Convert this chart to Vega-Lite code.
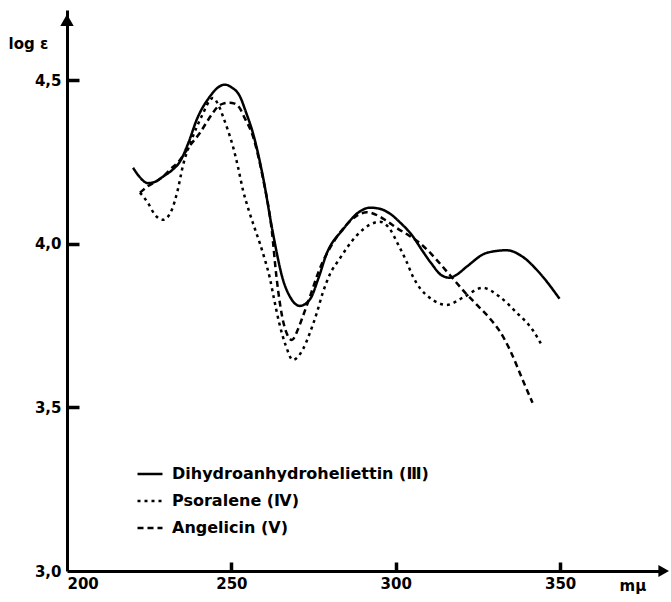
{
  "$schema": "https://vega.github.io/schema/vega-lite/v6.json",
  "width": 598,
  "height": 561,
  "autosize": {"type": "none"},
  "padding": {"left": 67, "top": 10, "right": 6, "bottom": 31},
  "background": "white",
  "config": {
    "view": {"stroke": null},
    "axis": {
      "grid": false,
      "ticks": false,
      "domainColor": "black",
      "domainWidth": 3,
      "tickColor": "black",
      "tickWidth": 2.5,
      "labelColor": "black",
      "labelFont": "DejaVu Sans",
      "labelFontWeight": "bold",
      "labelFontSize": 15,
      "titleColor": "black",
      "titleFont": "DejaVu Sans",
      "titleFontWeight": "bold",
      "titleFontSize": 15
    },
    "legend": {
      "labelFont": "DejaVu Sans",
      "labelFontWeight": "bold",
      "labelFontSize": 16,
      "labelColor": "black",
      "labelLimit": 0
    }
  },
  "resolve": {"axis": {"x": "independent", "y": "independent"}},
  "datasets": {
    "curves": [
      {"series": "Dihydroanhydroheliettin (Ⅲ)", "nm": 220.1, "loge": 4.232},
      {"series": "Dihydroanhydroheliettin (Ⅲ)", "nm": 222.0, "loge": 4.205},
      {"series": "Dihydroanhydroheliettin (Ⅲ)", "nm": 224.6, "loge": 4.185},
      {"series": "Dihydroanhydroheliettin (Ⅲ)", "nm": 227.0, "loge": 4.19},
      {"series": "Dihydroanhydroheliettin (Ⅲ)", "nm": 229.2, "loge": 4.205},
      {"series": "Dihydroanhydroheliettin (Ⅲ)", "nm": 232.0, "loge": 4.225},
      {"series": "Dihydroanhydroheliettin (Ⅲ)", "nm": 234.3, "loge": 4.25},
      {"series": "Dihydroanhydroheliettin (Ⅲ)", "nm": 237.0, "loge": 4.31},
      {"series": "Dihydroanhydroheliettin (Ⅲ)", "nm": 239.5, "loge": 4.38},
      {"series": "Dihydroanhydroheliettin (Ⅲ)", "nm": 243.5, "loge": 4.45},
      {"series": "Dihydroanhydroheliettin (Ⅲ)", "nm": 246.0, "loge": 4.478},
      {"series": "Dihydroanhydroheliettin (Ⅲ)", "nm": 248.0, "loge": 4.486},
      {"series": "Dihydroanhydroheliettin (Ⅲ)", "nm": 250.0, "loge": 4.478},
      {"series": "Dihydroanhydroheliettin (Ⅲ)", "nm": 252.6, "loge": 4.45},
      {"series": "Dihydroanhydroheliettin (Ⅲ)", "nm": 254.5, "loge": 4.40},
      {"series": "Dihydroanhydroheliettin (Ⅲ)", "nm": 256.5, "loge": 4.34},
      {"series": "Dihydroanhydroheliettin (Ⅲ)", "nm": 259.6, "loge": 4.205},
      {"series": "Dihydroanhydroheliettin (Ⅲ)", "nm": 262.5, "loge": 4.04},
      {"series": "Dihydroanhydroheliettin (Ⅲ)", "nm": 265.7, "loge": 3.89},
      {"series": "Dihydroanhydroheliettin (Ⅲ)", "nm": 268.0, "loge": 3.835},
      {"series": "Dihydroanhydroheliettin (Ⅲ)", "nm": 270.8, "loge": 3.81},
      {"series": "Dihydroanhydroheliettin (Ⅲ)", "nm": 273.9, "loge": 3.83},
      {"series": "Dihydroanhydroheliettin (Ⅲ)", "nm": 276.5, "loge": 3.895},
      {"series": "Dihydroanhydroheliettin (Ⅲ)", "nm": 279.0, "loge": 3.97},
      {"series": "Dihydroanhydroheliettin (Ⅲ)", "nm": 283.9, "loge": 4.043},
      {"series": "Dihydroanhydroheliettin (Ⅲ)", "nm": 289.0, "loge": 4.098},
      {"series": "Dihydroanhydroheliettin (Ⅲ)", "nm": 292.1, "loge": 4.11},
      {"series": "Dihydroanhydroheliettin (Ⅲ)", "nm": 295.0, "loge": 4.107},
      {"series": "Dihydroanhydroheliettin (Ⅲ)", "nm": 298.2, "loge": 4.092},
      {"series": "Dihydroanhydroheliettin (Ⅲ)", "nm": 301.2, "loge": 4.066},
      {"series": "Dihydroanhydroheliettin (Ⅲ)", "nm": 305.0, "loge": 4.025},
      {"series": "Dihydroanhydroheliettin (Ⅲ)", "nm": 308.0, "loge": 3.98},
      {"series": "Dihydroanhydroheliettin (Ⅲ)", "nm": 310.8, "loge": 3.94},
      {"series": "Dihydroanhydroheliettin (Ⅲ)", "nm": 314.0, "loge": 3.903},
      {"series": "Dihydroanhydroheliettin (Ⅲ)", "nm": 316.4, "loge": 3.896},
      {"series": "Dihydroanhydroheliettin (Ⅲ)", "nm": 318.5, "loge": 3.905},
      {"series": "Dihydroanhydroheliettin (Ⅲ)", "nm": 321.6, "loge": 3.93},
      {"series": "Dihydroanhydroheliettin (Ⅲ)", "nm": 327.7, "loge": 3.972},
      {"series": "Dihydroanhydroheliettin (Ⅲ)", "nm": 333.7, "loge": 3.98},
      {"series": "Dihydroanhydroheliettin (Ⅲ)", "nm": 338.6, "loge": 3.96},
      {"series": "Dihydroanhydroheliettin (Ⅲ)", "nm": 343.8, "loge": 3.91},
      {"series": "Dihydroanhydroheliettin (Ⅲ)", "nm": 349.8, "loge": 3.832},

      {"series": "Psoralene (Ⅳ)", "nm": 222.2, "loge": 4.156},
      {"series": "Psoralene (Ⅳ)", "nm": 224.6, "loge": 4.125},
      {"series": "Psoralene (Ⅳ)", "nm": 226.7, "loge": 4.089},
      {"series": "Psoralene (Ⅳ)", "nm": 229.2, "loge": 4.073},
      {"series": "Psoralene (Ⅳ)", "nm": 231.9, "loge": 4.104},
      {"series": "Psoralene (Ⅳ)", "nm": 233.7, "loge": 4.165},
      {"series": "Psoralene (Ⅳ)", "nm": 235.3, "loge": 4.24},
      {"series": "Psoralene (Ⅳ)", "nm": 238.0, "loge": 4.32},
      {"series": "Psoralene (Ⅳ)", "nm": 241.0, "loge": 4.39},
      {"series": "Psoralene (Ⅳ)", "nm": 244.4, "loge": 4.445},
      {"series": "Psoralene (Ⅳ)", "nm": 246.0, "loge": 4.425},
      {"series": "Psoralene (Ⅳ)", "nm": 247.4, "loge": 4.39},
      {"series": "Psoralene (Ⅳ)", "nm": 249.0, "loge": 4.345},
      {"series": "Psoralene (Ⅳ)", "nm": 250.4, "loge": 4.30},
      {"series": "Psoralene (Ⅳ)", "nm": 252.0, "loge": 4.235},
      {"series": "Psoralene (Ⅳ)", "nm": 253.5, "loge": 4.165},
      {"series": "Psoralene (Ⅳ)", "nm": 255.2, "loge": 4.105},
      {"series": "Psoralene (Ⅳ)", "nm": 257.0, "loge": 4.05},
      {"series": "Psoralene (Ⅳ)", "nm": 258.7, "loge": 4.0},
      {"series": "Psoralene (Ⅳ)", "nm": 260.2, "loge": 3.951},
      {"series": "Psoralene (Ⅳ)", "nm": 261.7, "loge": 3.895},
      {"series": "Psoralene (Ⅳ)", "nm": 263.0, "loge": 3.83},
      {"series": "Psoralene (Ⅳ)", "nm": 264.5, "loge": 3.76},
      {"series": "Psoralene (Ⅳ)", "nm": 266.5, "loge": 3.69},
      {"series": "Psoralene (Ⅳ)", "nm": 268.7, "loge": 3.645},
      {"series": "Psoralene (Ⅳ)", "nm": 271.7, "loge": 3.676},
      {"series": "Psoralene (Ⅳ)", "nm": 273.9, "loge": 3.728},
      {"series": "Psoralene (Ⅳ)", "nm": 276.0, "loge": 3.789},
      {"series": "Psoralene (Ⅳ)", "nm": 277.8, "loge": 3.85},
      {"series": "Psoralene (Ⅳ)", "nm": 279.9, "loge": 3.905},
      {"series": "Psoralene (Ⅳ)", "nm": 283.0, "loge": 3.955},
      {"series": "Psoralene (Ⅳ)", "nm": 288.1, "loge": 4.025},
      {"series": "Psoralene (Ⅳ)", "nm": 292.1, "loge": 4.058},
      {"series": "Psoralene (Ⅳ)", "nm": 295.1, "loge": 4.067},
      {"series": "Psoralene (Ⅳ)", "nm": 298.2, "loge": 4.045},
      {"series": "Psoralene (Ⅳ)", "nm": 300.6, "loge": 4.0},
      {"series": "Psoralene (Ⅳ)", "nm": 303.3, "loge": 3.945},
      {"series": "Psoralene (Ⅳ)", "nm": 305.2, "loge": 3.9},
      {"series": "Psoralene (Ⅳ)", "nm": 307.3, "loge": 3.865},
      {"series": "Psoralene (Ⅳ)", "nm": 310.3, "loge": 3.835},
      {"series": "Psoralene (Ⅳ)", "nm": 315.5, "loge": 3.813},
      {"series": "Psoralene (Ⅳ)", "nm": 320.4, "loge": 3.835},
      {"series": "Psoralene (Ⅳ)", "nm": 326.4, "loge": 3.865},
      {"series": "Psoralene (Ⅳ)", "nm": 331.6, "loge": 3.838},
      {"series": "Psoralene (Ⅳ)", "nm": 336.8, "loge": 3.789},
      {"series": "Psoralene (Ⅳ)", "nm": 341.6, "loge": 3.737},
      {"series": "Psoralene (Ⅳ)", "nm": 344.7, "loge": 3.685},

      {"series": "Angelicin  (Ⅴ)", "nm": 222.2, "loge": 4.156},
      {"series": "Angelicin  (Ⅴ)", "nm": 224.5, "loge": 4.175},
      {"series": "Angelicin  (Ⅴ)", "nm": 227.0, "loge": 4.19},
      {"series": "Angelicin  (Ⅴ)", "nm": 229.2, "loge": 4.205},
      {"series": "Angelicin  (Ⅴ)", "nm": 231.3, "loge": 4.226},
      {"series": "Angelicin  (Ⅴ)", "nm": 234.3, "loge": 4.255},
      {"series": "Angelicin  (Ⅴ)", "nm": 237.4, "loge": 4.30},
      {"series": "Angelicin  (Ⅴ)", "nm": 240.4, "loge": 4.338},
      {"series": "Angelicin  (Ⅴ)", "nm": 242.6, "loge": 4.373},
      {"series": "Angelicin  (Ⅴ)", "nm": 244.4, "loge": 4.40},
      {"series": "Angelicin  (Ⅴ)", "nm": 245.9, "loge": 4.419},
      {"series": "Angelicin  (Ⅴ)", "nm": 247.5, "loge": 4.428},
      {"series": "Angelicin  (Ⅴ)", "nm": 249.5, "loge": 4.431},
      {"series": "Angelicin  (Ⅴ)", "nm": 251.0, "loge": 4.428},
      {"series": "Angelicin  (Ⅴ)", "nm": 252.5, "loge": 4.415},
      {"series": "Angelicin  (Ⅴ)", "nm": 254.0, "loge": 4.385},
      {"series": "Angelicin  (Ⅴ)", "nm": 256.5, "loge": 4.33},
      {"series": "Angelicin  (Ⅴ)", "nm": 259.6, "loge": 4.2},
      {"series": "Angelicin  (Ⅴ)", "nm": 262.3, "loge": 4.04},
      {"series": "Angelicin  (Ⅴ)", "nm": 263.7, "loge": 3.90},
      {"series": "Angelicin  (Ⅴ)", "nm": 265.3, "loge": 3.785},
      {"series": "Angelicin  (Ⅴ)", "nm": 267.0, "loge": 3.722},
      {"series": "Angelicin  (Ⅴ)", "nm": 268.4, "loge": 3.706},
      {"series": "Angelicin  (Ⅴ)", "nm": 270.2, "loge": 3.737},
      {"series": "Angelicin  (Ⅴ)", "nm": 271.7, "loge": 3.777},
      {"series": "Angelicin  (Ⅴ)", "nm": 273.9, "loge": 3.838},
      {"series": "Angelicin  (Ⅴ)", "nm": 276.0, "loge": 3.90},
      {"series": "Angelicin  (Ⅴ)", "nm": 277.8, "loge": 3.945},
      {"series": "Angelicin  (Ⅴ)", "nm": 279.5, "loge": 3.978},
      {"series": "Angelicin  (Ⅴ)", "nm": 282.1, "loge": 4.021},
      {"series": "Angelicin  (Ⅴ)", "nm": 284.5, "loge": 4.052},
      {"series": "Angelicin  (Ⅴ)", "nm": 289.0, "loge": 4.09},
      {"series": "Angelicin  (Ⅴ)", "nm": 291.2, "loge": 4.096},
      {"series": "Angelicin  (Ⅴ)", "nm": 295.1, "loge": 4.083},
      {"series": "Angelicin  (Ⅴ)", "nm": 297.3, "loge": 4.069},
      {"series": "Angelicin  (Ⅴ)", "nm": 300.3, "loge": 4.048},
      {"series": "Angelicin  (Ⅴ)", "nm": 304.0, "loge": 4.025},
      {"series": "Angelicin  (Ⅴ)", "nm": 307.3, "loge": 4.002},
      {"series": "Angelicin  (Ⅴ)", "nm": 310.0, "loge": 3.977},
      {"series": "Angelicin  (Ⅴ)", "nm": 312.5, "loge": 3.95},
      {"series": "Angelicin  (Ⅴ)", "nm": 316.4, "loge": 3.905},
      {"series": "Angelicin  (Ⅴ)", "nm": 321.6, "loge": 3.845},
      {"series": "Angelicin  (Ⅴ)", "nm": 325.0, "loge": 3.81},
      {"series": "Angelicin  (Ⅴ)", "nm": 328.6, "loge": 3.772},
      {"series": "Angelicin  (Ⅴ)", "nm": 331.8, "loge": 3.73},
      {"series": "Angelicin  (Ⅴ)", "nm": 334.7, "loge": 3.676},
      {"series": "Angelicin  (Ⅴ)", "nm": 338.6, "loge": 3.584},
      {"series": "Angelicin  (Ⅴ)", "nm": 341.6, "loge": 3.514}
    ]
  },
  "layer": [
    {
      "data": {"name": "curves"},
      "mark": {"type": "line", "color": "black", "strokeWidth": 2.5, "interpolate": "monotone"},
      "encoding": {
        "x": {
          "field": "nm", "type": "quantitative",
          "scale": {"domain": [200, 381.9], "zero": false, "nice": false},
          "axis": {
            "orient": "bottom",
            "values": [200, 250, 300, 350],
            "labelPadding": 5,
            "labelFlush": true,
            "title": "mμ",
            "titleAngle": 0,
            "titleAlign": "left",
            "titleBaseline": "middle",
            "titleX": 552,
            "titleY": 14
          }
        },
        "y": {
          "field": "loge", "type": "quantitative",
          "scale": {"domain": [3.0, 4.714], "zero": false, "nice": false},
          "axis": {
            "orient": "left",
            "values": [3.0, 3.5, 4.0, 4.5],
            "labelPadding": 6,
            "labelExpr": "replace(format(datum.value, '.1f'), '.', ',')",
            "title": "log ε",
            "titleAngle": 0,
            "titleAlign": "left",
            "titleBaseline": "middle",
            "titleX": -59,
            "titleY": 33
          }
        },
        "strokeDash": {
          "field": "series", "type": "nominal",
          "scale": {
            "domain": ["Dihydroanhydroheliettin (Ⅲ)", "Psoralene (Ⅳ)", "Angelicin  (Ⅴ)"],
            "range": [[1, 0], [3, 4], [6, 4]]
          },
          "legend": {
            "title": null,
            "orient": "none",
            "legendX": 69,
            "legendY": 450,
            "padding": 0,
            "symbolType": "stroke",
            "symbolSize": 625,
            "symbolStrokeWidth": 2.5,
            "symbolStrokeColor": "black",
            "labelOffset": 8,
            "rowPadding": 5
          }
        }
      }
    },
    {
      "data": {"values": [{"nm": 200, "loge": 4.683}]},
      "mark": {"type": "point", "shape": "triangle-up", "filled": true, "color": "black", "opacity": 1, "size": 180},
      "encoding": {
        "x": {"field": "nm", "type": "quantitative", "axis": null},
        "y": {
          "field": "loge", "type": "quantitative",
          "axis": {
            "orient": "right",
            "offset": -598,
            "values": [3.5, 4.0, 4.5],
            "domain": false,
            "labels": false,
            "ticks": true,
            "tickSize": 12,
            "tickWidth": 3.5,
            "tickColor": "black",
            "title": null
          }
        }
      }
    },
    {
      "data": {"values": [{"nm": 381.5, "loge": 3.0}]},
      "mark": {"type": "point", "shape": "triangle-right", "filled": true, "color": "black", "opacity": 1, "size": 150},
      "encoding": {
        "x": {
          "field": "nm", "type": "quantitative",
          "axis": {
            "orient": "top",
            "offset": -561,
            "values": [250, 300, 350],
            "domain": false,
            "labels": false,
            "ticks": true,
            "tickSize": 9,
            "tickWidth": 3.5,
            "tickColor": "black",
            "title": null
          }
        },
        "y": {"field": "loge", "type": "quantitative", "axis": null}
      }
    }
  ]
}
